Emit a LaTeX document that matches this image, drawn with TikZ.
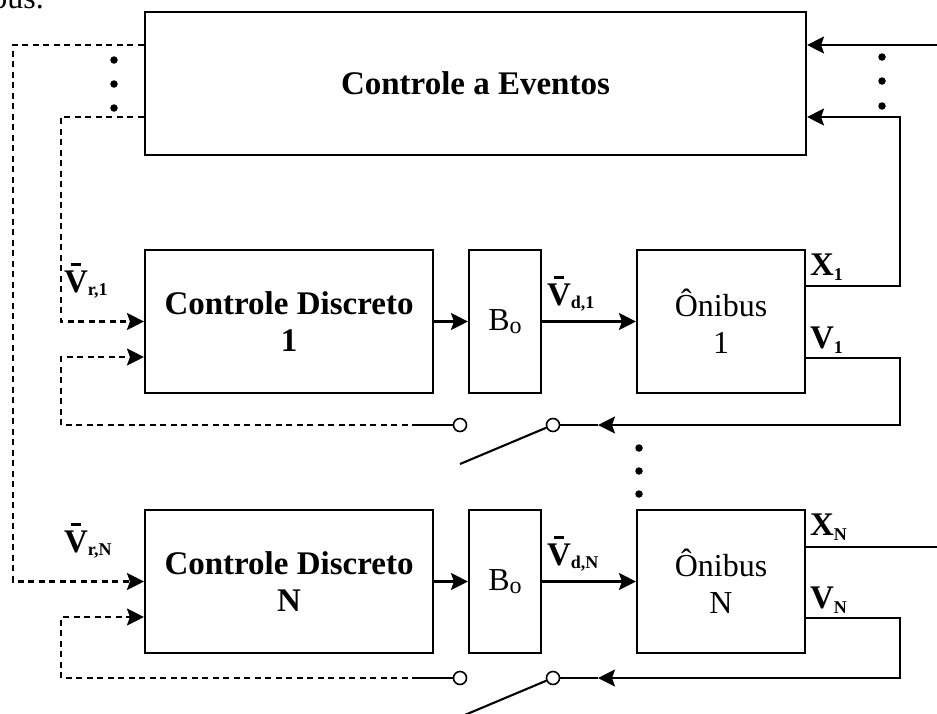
\documentclass[tikz,border=0pt]{standalone}
\usepackage{fontspec}
\setmainfont{Liberation Serif}
\usetikzlibrary{arrows.meta}
% V with a short bar on top
\newcommand\Vbar{\ooalign{V\cr\hidewidth\rule[0.8em]{0.32em}{0.07em}\hidewidth\cr}}
\newcommand\sub[2][-3pt]{\raisebox{#1}{\fontsize{18}{18}\selectfont #2}}
\begin{document}
\begin{tikzpicture}[x=1pt,y=-1pt,
  line width=2.1pt,
  box/.style={draw, line width=2.1pt, inner sep=0pt, align=center,
    font=\fontsize{32}{37}\selectfont},
  bigbox/.style={box, font=\fontsize{33}{37}\selectfont\bfseries},
  arr/.style={-{Stealth[length=17pt,width=17pt,inset=3pt]}},
  dashline/.style={dash pattern=on 6pt off 4.5pt},
  contact/.style={circle, draw, fill=white, line width=1.6pt,
    minimum size=13pt, inner sep=0pt},
  blob/.style={circle, fill=black, minimum size=7.5pt, inner sep=0pt},
  lbl/.style={inner sep=0pt, anchor=base west,
    font=\fontsize{33}{36}\selectfont\bfseries}]
\clip (0,0) rectangle (937,713);
\fill[white] (0,0) rectangle (937,713);

% caption remnant at the top
\node[inner sep=0pt, anchor=base east, font=\fontsize{32}{36}\selectfont] (cap) at (45,8) {bus.};

% blocks
\node[bigbox, minimum width=661pt, minimum height=143pt] (CE) at (475.5,83.5) {Controle a Eventos};
\node[bigbox, minimum width=288pt, minimum height=143pt] (CD1) at (289,321.5) {Controle Discreto\\1};
\node[box, minimum width=72pt, minimum height=143pt] (B1) at (505,321.5) {B\raisebox{-3pt}{\fontsize{24}{24}\selectfont o}};
\node[box, minimum width=168pt, minimum height=143pt] (O1) at (721,321.5) {Ônibus\\1};
\node[bigbox, minimum width=288pt, minimum height=143pt] (CDN) at (289,581.5) {Controle Discreto\\N};
\node[box, minimum width=72pt, minimum height=143pt] (BN) at (505,581.5) {B\raisebox{-3pt}{\fontsize{24}{24}\selectfont o}};
\node[box, minimum width=168pt, minimum height=143pt] (ON) at (721,581.5) {Ônibus\\N};

% forward paths
\draw[arr] (CD1) -- (B1);
\draw[arr] (B1) -- (O1);
\draw[arr] (CDN) -- (BN);
\draw[arr] (BN) -- (ON);

% references from the event controller
\draw[dashline, arr] (CE.west |- 0,45) -| (13,581.5) -- (CDN.west);
\draw[dashline, arr] (CE.west |- 0,117) -| (61,321.5) -- (CD1.west);
\node[blob] (d1) at (114,60) {};
\node[blob] (d2) at (114,84) {};
\node[blob] (d3) at (114,108) {};

% positions back to the event controller
\coordinate (xin) at (937,45);
\draw[arr] (xin) -- (CE.east |- xin);
\draw[arr] (O1.east |- 0,286) -| (900,117) -- (CE.east |- 0,117);
\node[blob] (d4) at (882,57) {};
\node[blob] (d5) at (882,81) {};
\node[blob] (d6) at (882,106) {};
\coordinate (xout) at (937,547);
\draw (ON.east |- xout) -- (xout);

% speed feedback through sampling switches
\foreach \r/\cd/\on/\yv/\yf/\yi in {1/CD1/O1/358/425/357, N/CDN/ON/618/678/617}{
  \node[contact] (sa\r) at (460,\yf) {};
  \node[contact] (sb\r) at (553,\yf) {};
  \coordinate (tip\r) at (598,\yf);
  \coordinate (lev\r) at (460,\yf+39);
  \coordinate (dsh\r) at (418,\yf);
  \draw[arr] (\on.east |- 0,\yv) -| (900,\yf) -- (tip\r);
  \draw (tip\r) -- (sb\r);
  \draw (sb\r.202.8) -- (lev\r);
  \draw (sa\r) -- (dsh\r);
  \draw[dashline, arr] (dsh\r) -| (61,\yi) -- (\cd.west |- 0,\yi);
}

\node[blob] (d7) at (639,448) {};
\node[blob] (d8) at (639,471) {};
\node[blob] (d9) at (639,494) {};

% signal labels
\node[lbl] (vr1) at (63,292) {\Vbar\sub{r,1}};
\node[lbl] (vd1) at (546,305) {\Vbar\sub{d,1}};
\node[lbl] (x1) at (809,275) {X\sub[-5pt]{1}};
\node[lbl] (v1) at (809,348) {V\sub[-5pt]{1}};
\node[lbl] (vrN) at (63,552) {\Vbar\sub{r,N}};
\node[lbl] (vdN) at (546,565) {\Vbar\sub{d,N}};
\node[lbl] (xN) at (809,535) {X\sub[-5pt]{N}};
\node[lbl] (vN) at (809,608) {V\sub[-5pt]{N}};
\end{tikzpicture}
\end{document}
